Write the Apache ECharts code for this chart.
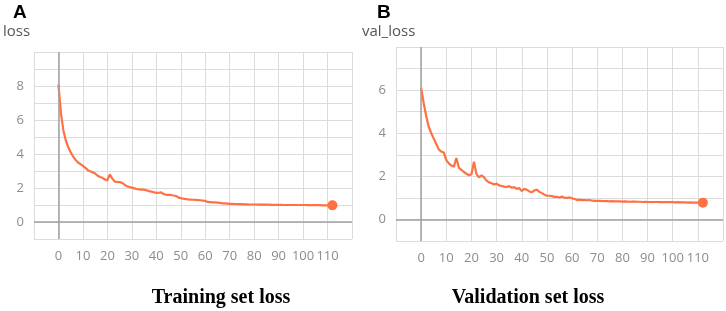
<!DOCTYPE html>
<html>
<head>
<meta charset="utf-8">
<script src="https://cdn.jsdelivr.net/npm/echarts@6/dist/echarts.min.js"></script>
<style>
html, body { margin: 0; padding: 0; background: #fff; }
#chart { width: 726px; height: 311px; }
</style>
</head>
<body>
<div id="chart"></div>
<script>
// epochs 0..112
var trainLoss = [
  8.1, 6.4, 5.4, 4.8, 4.4, 4.1, 3.85, 3.65, 3.5, 3.4,
  3.3, 3.18, 3.05, 2.98, 2.92, 2.85, 2.72, 2.65, 2.6, 2.5,
  2.45, 2.8, 2.55, 2.38, 2.36, 2.35, 2.3, 2.2, 2.1, 2.06,
  2.02, 1.98, 1.94, 1.92, 1.9, 1.9, 1.86, 1.82, 1.79, 1.75,
  1.71, 1.72, 1.74, 1.65, 1.6, 1.6, 1.59, 1.56, 1.54, 1.45,
  1.4, 1.37, 1.35, 1.33, 1.32, 1.31, 1.3, 1.29, 1.28, 1.26,
  1.24, 1.18, 1.17, 1.16, 1.15, 1.14, 1.12, 1.1, 1.09, 1.08,
  1.07, 1.07, 1.06, 1.06, 1.05, 1.05, 1.04, 1.04, 1.03, 1.03,
  1.03, 1.03, 1.02, 1.02, 1.02, 1.02, 1.02, 1.01, 1.01, 1.01,
  1.01, 1.01, 1.0, 1.0, 1.0, 1.0, 1.0, 1.0, 1.0, 1.0,
  1.0, 1.0, 0.99, 0.99, 0.99, 0.99, 0.99, 0.99, 0.98, 0.98,
  0.98, 0.98, 0.98
];
var valLoss = [
  6.1, 5.4, 4.8, 4.3, 4.0, 3.75, 3.5, 3.25, 3.15, 3.1,
  2.75, 2.6, 2.5, 2.45, 2.85, 2.4, 2.3, 2.2, 2.12, 2.05,
  2.1, 2.68, 2.1, 1.95, 2.05, 1.95, 1.8, 1.72, 1.68, 1.62,
  1.66, 1.58, 1.55, 1.52, 1.5, 1.55, 1.47, 1.5, 1.42, 1.45,
  1.32, 1.42, 1.38, 1.3, 1.26, 1.35, 1.38, 1.28, 1.22, 1.15,
  1.1, 1.1, 1.08, 1.05, 1.05, 1.02, 1.06, 1.0, 1.0, 1.02,
  0.98, 0.95, 0.9, 0.92, 0.9, 0.9, 0.89, 0.9, 0.87, 0.86,
  0.86, 0.86, 0.85, 0.85, 0.85, 0.84, 0.85, 0.84, 0.84, 0.84,
  0.83, 0.84, 0.83, 0.82, 0.83, 0.83, 0.82, 0.82, 0.81, 0.82,
  0.81, 0.81, 0.80, 0.81, 0.81, 0.80, 0.80, 0.80, 0.81, 0.80,
  0.80, 0.79, 0.80, 0.79, 0.79, 0.79, 0.78, 0.79, 0.78, 0.78,
  0.78, 0.78, 0.78
];
var xTicks = ['0', '10', '20', '30', '40', '50', '60', '70', '80', '90', '100', '110'];

function toPairs(arr) {
  return arr.map(function (v, i) { return [i, v]; });
}

var lineColor = '#ff7043';
var gridColor = '#dcdcdc';
var labelColor = '#8c8c8c';

function xAxisFor(idx) {
  return {
    gridIndex: idx, type: 'value', min: -10, max: 120, interval: 10,
    axisLine: { show: false },
    axisTick: { show: true, length: 4, lineStyle: { color: gridColor } },
    splitLine: { show: true, lineStyle: { color: gridColor, width: 1 } },
    axisLabel: {
      margin: 11, color: labelColor, fontSize: 13, fontFamily: 'Open Sans',
      formatter: function (v) { return xTicks.indexOf(String(v)) >= 0 ? String(v) : ''; }
    }
  };
}
function yAxisFor(idx, max) {
  return {
    gridIndex: idx, type: 'value', min: -1, max: max, interval: 1,
    axisLine: { show: false },
    axisTick: { show: true, length: 3, lineStyle: { color: gridColor } },
    splitLine: { show: true, lineStyle: { color: gridColor, width: 1 } },
    axisLabel: {
      margin: 10, color: labelColor, fontSize: 13, fontFamily: 'Open Sans',
      formatter: function (v) { return (v >= 0 && v < max && v % 2 === 0) ? String(v) : ''; }
    }
  };
}
function lineSeries(idx, arr) {
  return {
    type: 'line', xAxisIndex: idx, yAxisIndex: idx,
    data: toPairs(arr), showSymbol: false, smooth: false,
    lineStyle: { color: lineColor, width: 2.2 },
    markLine: {
      silent: true, symbol: 'none', label: { show: false },
      lineStyle: { color: '#a0a0a0', type: 'solid', width: 1.5 },
      data: [{ xAxis: 0 }, { yAxis: 0 }]
    },
    z: 3
  };
}
function lastDot(idx, arr) {
  return {
    type: 'scatter', xAxisIndex: idx, yAxisIndex: idx,
    data: [[arr.length - 1, arr[arr.length - 1]]],
    symbolSize: 10, itemStyle: { color: lineColor, opacity: 1 }, z: 4
  };
}

var chart = echarts.init(document.getElementById('chart'));
chart.setOption({
  backgroundColor: '#fff',
  animation: false,
  grid: [
    { left: 34, right: 374, top: 52, bottom: 72 },
    { left: 396, right: 2, top: 47, bottom: 70 }
  ],
  xAxis: [xAxisFor(0), xAxisFor(1)],
  yAxis: [yAxisFor(0, 10), yAxisFor(1, 8)],
  series: [
    lineSeries(0, trainLoss), lastDot(0, trainLoss),
    lineSeries(1, valLoss), lastDot(1, valLoss)
  ],
  graphic: [
    { type: 'text', x: 13, y: 3, style: { text: 'A', font: 'bold 19px Liberation Sans', fill: '#000' } },
    { type: 'text', x: 3, y: 24, style: { text: 'loss', font: '15px Open Sans', fill: '#555' } },
    { type: 'text', x: 377, y: 3, style: { text: 'B', font: 'bold 19px Liberation Sans', fill: '#000' } },
    { type: 'text', x: 362, y: 24, style: { text: 'val_loss', font: '15px Open Sans', fill: '#555' } },
    { type: 'text', x: 221, y: 288, style: { text: 'Training set loss', font: 'bold 20px Liberation Serif', fill: '#000', textAlign: 'center' } },
    { type: 'text', x: 528, y: 288, style: { text: 'Validation set loss', font: 'bold 20px Liberation Serif', fill: '#000', textAlign: 'center' } }
  ]
});
</script>
</body>
</html>
